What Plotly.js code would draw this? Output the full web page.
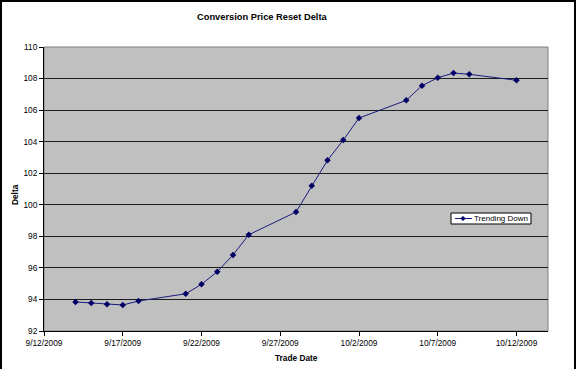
<!DOCTYPE html>
<html>
<head>
<meta charset="utf-8">
<script src="https://cdn.plot.ly/plotly-3.0.1.min.js"></script>
<style>
  html, body { margin: 0; padding: 0; background: #fff; }
  #wrap { position: relative; width: 576px; height: 373px; }
  #chart { position: absolute; left: 0; top: 0; width: 576px; height: 373px; }
  #frame { position: absolute; left: 0; top: 0; height: 369px; width: 576px;
           border-left: 2px solid #000; border-top: 2px solid #000; border-right: 2px solid #000;
           box-sizing: border-box; pointer-events: none; }
</style>
</head>
<body>
<div id="wrap">
  <div id="chart"></div>
  <div id="frame"></div>
</div>
<script>
const tradeDates = ['2009-09-14','2009-09-15','2009-09-16','2009-09-17','2009-09-18',
  '2009-09-21','2009-09-22','2009-09-23','2009-09-24','2009-09-25',
  '2009-09-28','2009-09-29','2009-09-30','2009-10-01','2009-10-02',
  '2009-10-05','2009-10-06','2009-10-07','2009-10-08','2009-10-09','2009-10-12'];
const deltaValues = [93.84, 93.77, 93.69, 93.65, 93.90,
  94.36, 94.96, 95.76, 96.82, 98.10,
  99.54, 101.20, 102.82, 104.10, 105.50,
  106.62, 107.55, 108.05, 108.35, 108.27, 107.89];
const xTickVals = ['2009-09-12','2009-09-17','2009-09-22','2009-09-27','2009-10-02','2009-10-07','2009-10-12'];
const xTickText = ['9/12/2009','9/17/2009','9/22/2009','9/27/2009','10/2/2009','10/7/2009','10/12/2009'];
const seriesName = 'Trending Down';
const chartTitle = 'Conversion Price Reset Delta';
const xTitle = 'Trade Date';
const yTitle = 'Delta';

const FONT = 'Liberation Sans, Arial, sans-serif';
const LINE_COLOR = '#1a1a80';
const MARKER_COLOR = '#000066';

// plot area in pixels: left 44, right 548, top 47, bottom 331
const px = v => (v - 44) / 504;
const py = v => (331 - v) / 284;

const trace = {
  x: tradeDates, y: deltaValues, type: 'scatter', mode: 'lines+markers',
  name: seriesName, showlegend: false,
  line: { color: LINE_COLOR, width: 1 },
  marker: { symbol: 'diamond', size: 5, color: MARKER_COLOR, line: { width: 0 } }
};

// legend box drawn with shapes (Excel-style compact legend)
const lgL = 451, lgR = 531, lgT = 213, lgB = 224, lgMid = (lgT + lgB) / 2;
const symX = 463, d = 2.6;

const layout = {
  width: 576, height: 373,
  margin: { l: 44, r: 28, t: 47, b: 42 },
  paper_bgcolor: '#ffffff',
  plot_bgcolor: '#c0c0c0',
  font: { family: FONT, color: '#000', size: 8.3 },
  showlegend: false,
  xaxis: {
    type: 'date',
    range: ['2009-09-12', '2009-10-14'],
    tickvals: xTickVals, ticktext: xTickText,
    ticks: 'outside', ticklen: 4, tickcolor: '#000',
    showgrid: false, zeroline: false,
    showline: true, linecolor: '#000', linewidth: 1,
    tickfont: { family: FONT, size: 8.3, color: '#000' },
    fixedrange: true
  },
  yaxis: {
    range: [92, 110], dtick: 2, tick0: 92,
    ticks: 'outside', ticklen: 4, tickcolor: '#000',
    showgrid: true, gridcolor: '#1e1e1e', gridwidth: 1,
    zeroline: false,
    showline: true, linecolor: '#000', linewidth: 1,
    tickfont: { family: FONT, size: 8.3, color: '#000' },
    fixedrange: true
  },
  shapes: [
    { type: 'rect', xref: 'paper', yref: 'paper', x0: 0, x1: 1, y0: 0, y1: 1,
      line: { color: '#808080', width: 1 }, fillcolor: 'rgba(0,0,0,0)', layer: 'below' },
    { type: 'rect', xref: 'paper', yref: 'paper', x0: px(lgL), x1: px(lgR), y0: py(lgB), y1: py(lgT),
      line: { color: '#000', width: 1 }, fillcolor: '#ffffff', layer: 'above' },
    { type: 'line', xref: 'paper', yref: 'paper', x0: px(455), x1: px(472), y0: py(lgMid), y1: py(lgMid),
      line: { color: LINE_COLOR, width: 1 }, layer: 'above' },
    { type: 'path', xref: 'paper', yref: 'paper',
      path: 'M ' + px(symX - d) + ' ' + py(lgMid) + ' L ' + px(symX) + ' ' + py(lgMid - d) +
            ' L ' + px(symX + d) + ' ' + py(lgMid) + ' L ' + px(symX) + ' ' + py(lgMid + d) + ' Z',
      fillcolor: MARKER_COLOR, line: { color: MARKER_COLOR, width: 0 }, layer: 'above' }
  ],
  annotations: [
    { text: '<b>' + chartTitle + '</b>', xref: 'paper', yref: 'paper',
      x: px(262), y: py(17), xanchor: 'center', yanchor: 'middle',
      showarrow: false, font: { family: FONT, size: 9.3, color: '#000' } },
    { text: '<b>' + xTitle + '</b>', xref: 'paper', yref: 'paper',
      x: 0.5, y: py(358), xanchor: 'center', yanchor: 'middle',
      showarrow: false, font: { family: FONT, size: 8.3, color: '#000' } },
    { text: '<b>' + yTitle + '</b>', xref: 'paper', yref: 'paper',
      x: px(15), y: py(195), xanchor: 'center', yanchor: 'middle',
      textangle: -90, showarrow: false, font: { family: FONT, size: 8.3, color: '#000' } },
    { text: seriesName, xref: 'paper', yref: 'paper',
      x: px(473), y: py(lgMid), xanchor: 'left', yanchor: 'middle',
      showarrow: false, font: { family: FONT, size: 8, color: '#000' }, borderpad: 0 }
  ]
};

Plotly.newPlot('chart', [trace], layout, { displayModeBar: false, staticPlot: true });
</script>
</body>
</html>
